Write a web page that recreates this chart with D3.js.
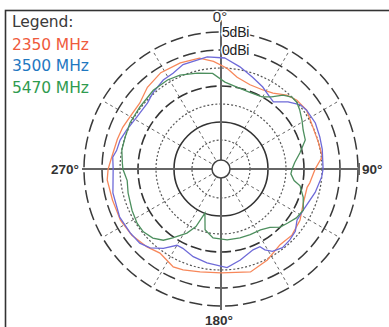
<!DOCTYPE html>
<html><head><meta charset="utf-8">
<script src="https://cdn.jsdelivr.net/npm/d3@7"></script>
<style>html,body{margin:0;padding:0;background:#fff;}svg{display:block;}</style>
</head><body>
<svg id="c" width="389" height="327"></svg>
<script>
// ---- data (angle in degrees clockwise from 0° at top, gain in dBi) ----
const ringValues = [5, 0, -5, -10, -15, -20, -25];
const ringLabels = ["5dBi", "0dBi"];
const angleLabels = ["0°", "90°", "180°", "270°"];
const seriesNames = ["2350 MHz", "3500 MHz", "5470 MHz"];

const angles2350 = [3.4,10,19,28,34.4,41.7,47.8,55.5,65.5,75,83,90,99,102,112.5,123,133,142,153,164,180,191.5,200.6,206,210.7,216,223.5,233.4,243,254,264.5,270,276,286,293,300,309,318,328,339,349,356];
const gain2350 = [-5.0,-7.2,-8.3,-8.2,-7.5,-5.6,-4.6,-4.2,-5.0,-5.0,-4.7,-6.9,-8.1,-8.6,-8.3,-6.9,-6.1,-6.4,-4.7,-3.3,-4.2,-3.9,-3.1,-2.8,-3.6,-4.2,-3.2,-2.2,-1.7,-1.7,-1.3,-1.7,-2.5,-3.1,-3.4,-3.9,-4.0,-2.5,-1.5,-1.5,-1.7,-3.1];

const angles3500 = [2,10.5,19,27,34,38,45,51,55.5,64,72,79,90,94.5,104,116.6,124,130,136,142,148,151.5,153.4,158.4,168,176.5,188.5,197.6,205.7,210,216,222,227.6,235,244.6,257.5,264,270,276.3,280,286,292.5,302,312,318,327,333.4,340,353];
const gain3500 = [-2.2,-4.2,-6.1,-7.5,-8.9,-9.4,-6.7,-4.7,-4.2,-3.9,-4.2,-4.4,-4.7,-5.0,-6.1,-7.5,-7.6,-6.1,-5.6,-5.3,-6.1,-7.5,-8.9,-8.9,-7.2,-5.6,-6.7,-7.5,-8.6,-8.6,-5.8,-3.6,-2.5,-2.2,-1.9,-2.3,-2.9,-3.1,-2.8,-3.6,-3.9,-4.7,-5.6,-5.6,-4.7,-3.6,-3.3,-2.2,-1.7];

const angles5470 = [2.6,11,20.6,29.7,35,40,44.6,48.6,53,59,64.6,71,78.5,85,90,94,99,102,109,116.6,123,129,134.5,140,147,156,164.6,175,186.6,194.7,200,203.5,208,215,219,224.6,231,237,245,255.5,263,270,273.5,280.9,288.4,297,307.4,319.3,329,336.4,346,355];
const gain5470 = [-8.9,-9.9,-10.3,-10.0,-8.6,-6.3,-5.0,-5.0,-5.7,-6.8,-7.8,-8.3,-10.7,-12.5,-13.3,-13.6,-12.5,-10.6,-8.9,-7.5,-8.1,-9.2,-10.0,-11.9,-12.9,-13.1,-13.2,-13.3,-13.8,-15.6,-20.0,-15.6,-12.9,-9.7,-7.6,-6.1,-5.3,-5.3,-5.8,-6.4,-6.8,-5.8,-5.6,-5.0,-5.0,-4.7,-4.7,-4.2,-4.2,-4.6,-5.6,-6.4];

const seriesAngles = [angles2350, angles3500, angles5470];
const seriesGains = [gain2350, gain3500, gain5470];
const lineColors = ["#f7875a", "#6e6ad8", "#4d8f5e"];
const textColors = ["#ef5a3c", "#1f78c1", "#2f9b4f"];

// ---- layout ----
const svg = d3.select("#c");
const cx = 221, cy = 169;
const r = d3.scaleLinear().domain([-30, 5]).range([11, 137]);
const deg = d3.scaleLinear().domain([0, 360]).range([0, 2 * Math.PI]);

// frame
svg.append("rect").attr("x", 5.5).attr("y", 10.5).attr("width", 400).attr("height", 330)
  .attr("fill", "none").attr("stroke", "#333").attr("stroke-width", 1.6);

const g = svg.append("g").attr("transform", `translate(${cx},${cy})`);

// radial spokes every 30°
const spokes = d3.range(30, 360, 30).filter(a => a % 90 !== 0);
g.selectAll("line.spoke").data(spokes).join("line")
  .attr("x1", a => Math.sin(deg(a)) * r(-30)).attr("y1", a => -Math.cos(deg(a)) * r(-30))
  .attr("x2", a => Math.sin(deg(a)) * r(5)).attr("y2", a => -Math.cos(deg(a)) * r(5))
  .attr("stroke", "#666").attr("stroke-width", 1).attr("stroke-dasharray", "3,3");

// rings
const ringStyle = v => {
  if (v === 5 || v === 0) return {dash: "13,5", w: 1.5, c: "#3a3a3a"};
  if (v === -10) return {dash: "11,4", w: 1.6, c: "#333"};
  if (v === -20) return {dash: null, w: 1.6, c: "#333"};
  return {dash: "2,2", w: 1.2, c: "#555"};
};
g.selectAll("circle.ring").data(ringValues).join("circle")
  .attr("r", v => r(v)).attr("fill", "none")
  .attr("stroke", v => ringStyle(v).c).attr("stroke-width", v => ringStyle(v).w)
  .attr("stroke-dasharray", v => ringStyle(v).dash);

// axes
g.append("line").attr("x1", -r(5) - 2).attr("x2", r(5) + 1).attr("y1", 0).attr("y2", 0)
  .attr("stroke", "#666").attr("stroke-width", 2);
g.append("line").attr("x1", r(5) + 1).attr("x2", r(5) + 1).attr("y1", -6).attr("y2", 6)
  .attr("stroke", "#666").attr("stroke-width", 2);
g.append("line").attr("x1", 0).attr("x2", 0).attr("y1", -r(5) - 12).attr("y2", r(5) + 4)
  .attr("stroke", "#666").attr("stroke-width", 2);

// centre circle
g.append("circle").attr("r", r(-30) - 2).attr("fill", "#fff").attr("stroke", "#444").attr("stroke-width", 1.5);

// series
const radial = d3.lineRadial().angle(d => deg(d[0])).radius(d => r(d[1])).curve(d3.curveLinearClosed);
seriesNames.forEach((name, i) => {
  const pts = seriesAngles[i].map((a, k) => [a, seriesGains[i][k]]);
  g.append("path").attr("d", radial(pts)).attr("fill", "none")
    .attr("stroke", lineColors[i]).attr("stroke-width", 1.3);
});

// ring labels
const halo = sel => sel.attr("stroke", "#fff").attr("stroke-width", 3).attr("paint-order", "stroke");
ringLabels.forEach((t, i) => {
  g.append("text").attr("x", 1).attr("y", -r(ringValues[i])).attr("dy", "0.36em")
    .attr("font-family", "Liberation Sans, Arial, sans-serif").attr("font-size", 14)
    .attr("letter-spacing", -0.2).attr("fill", "#222").text(t).call(halo);
});

// angle labels
const lab = (t, x, y, anchor) => svg.append("text").attr("x", x).attr("y", y).attr("text-anchor", anchor)
  .attr("dy", "0.36em").attr("font-family", "Liberation Sans, Arial, sans-serif")
  .attr("font-size", 13.5).attr("font-weight", "bold").attr("fill", "#333").text(t).call(halo);
lab(angleLabels[0], cx - 1, 17, "middle").attr("font-weight", "normal").attr("font-size", 15);
lab(angleLabels[1], cx + r(5) + 4, cy, "start");
lab(angleLabels[2], cx - 2, 320, "middle");
lab(angleLabels[3], cx - r(5) - 5, cy, "end");

// legend
const leg = svg.append("g").attr("font-family", "DejaVu Sans, sans-serif").attr("font-size", 15.5).attr("letter-spacing", -0.1);
leg.append("text").attr("x", 12).attr("y", 27).attr("fill", "#3a3a3a").text("Legend:");
seriesNames.forEach((n, i) => {
  leg.append("text").attr("x", 12).attr("y", 49.5 + i * 21.5).attr("fill", textColors[i]).text(n);
});
</script>
</body></html>
